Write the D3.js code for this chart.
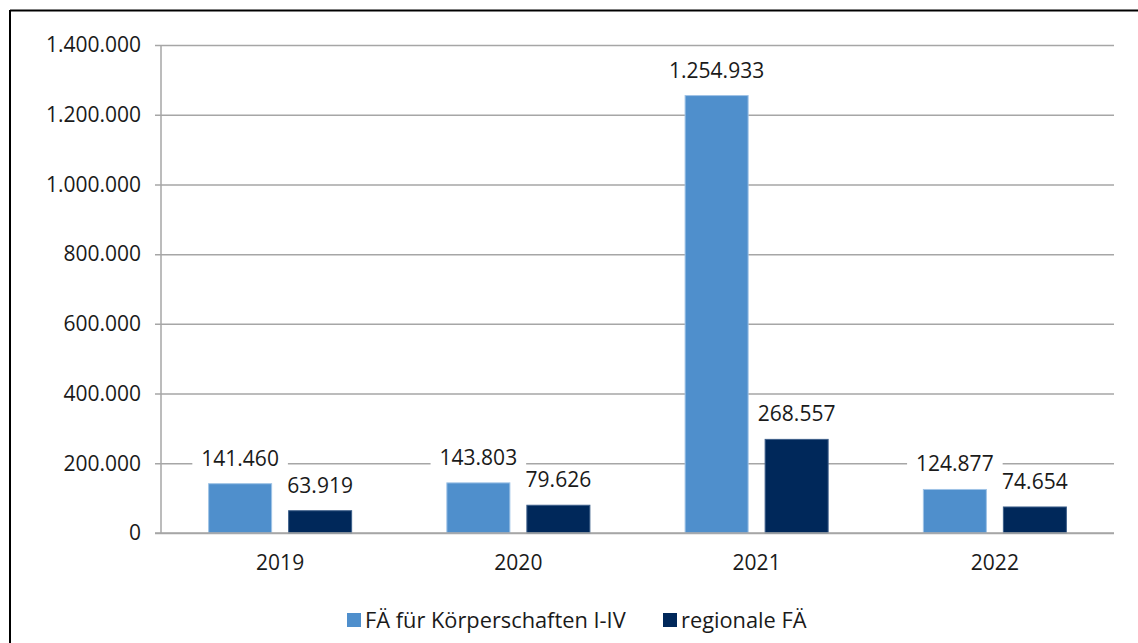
<!DOCTYPE html>
<html>
<head>
<meta charset="utf-8">
<script src="https://cdn.jsdelivr.net/npm/d3@7"></script>
<style>
  html, body { margin: 0; padding: 0; background: #fff; }
  svg { display: block; }
  text { font-family: "Open Sans", sans-serif; fill: #1a1a1a; }
</style>
</head>
<body>
<svg id="chart" width="1138" height="643"></svg>
<script>
// Data
const years = ["2019", "2020", "2021", "2022"];
const seriesNames = ["FÄ für Körperschaften I-IV", "regionale FÄ"];
const koerperschaften = [141460, 143803, 1254933, 124877];
const regionale = [63919, 79626, 268557, 74654];
const yTicks = [0, 200000, 400000, 600000, 800000, 1000000, 1200000, 1400000];
const seriesColors = ["#4f8fcc", "#00285a"];

const seriesValues = [koerperschaften, regionale];
const fmt = v => d3.format(",")(v).replace(/,/g, ".");

const svg = d3.select("#chart");
const W = 1138, H = 643;

// Outer frame (top and left edges visible)
svg.append("line").attr("x1", 10).attr("x2", W).attr("y1", 10.5).attr("y2", 10.5)
  .attr("stroke", "#000").attr("stroke-width", 2);
svg.append("line").attr("x1", 10).attr("x2", 10).attr("y1", 10).attr("y2", H)
  .attr("stroke", "#000").attr("stroke-width", 2);

const plot = { left: 161, right: 1114, top: 45, bottom: 533 };

const y = d3.scaleLinear().domain([0, 1400000]).range([plot.bottom, plot.top]);
const x0 = d3.scaleBand().domain(years).range([plot.left, plot.right]).padding(0);
const x1 = d3.scaleBand().domain(d3.range(seriesNames.length))
  .range([0, x0.bandwidth()]).paddingInner(0.2125).paddingOuter(0.595);

// Gridlines with small outward ticks
const yAxis = d3.axisLeft(y).tickValues(yTicks).tickFormat(fmt)
  .tickSize(-(plot.right - plot.left)).tickPadding(16);
const gy = svg.append("g").attr("transform", `translate(${plot.left},0)`).call(yAxis);
gy.select(".domain").remove();
gy.selectAll(".tick line").attr("stroke", "#a6a6a6").attr("stroke-width", 1.5)
  .attr("x1", -6);
gy.selectAll(".tick text").attr("font-size", 21).attr("fill", "#1a1a1a")
  .attr("font-family", "Open Sans, sans-serif").attr("x", -20);

// Vertical axis line
svg.append("line").attr("x1", plot.left).attr("x2", plot.left)
  .attr("y1", plot.top).attr("y2", plot.bottom)
  .attr("stroke", "#a6a6a6").attr("stroke-width", 1.5);

// Layers: label backings sit over the gridlines but under the bars
const boxLayer = svg.append("g");
const barLayer = svg.append("g");
const textLayer = svg.append("g");

// Category axis
const xAxis = d3.axisBottom(x0).tickSize(0).tickPadding(22);
const gx = svg.append("g").attr("transform", `translate(0,${plot.bottom})`).call(xAxis);
gx.select(".domain").attr("stroke", "#a6a6a6").attr("stroke-width", 1.5)
  .attr("d", `M${plot.left - 6},0H${plot.right}`);
gx.selectAll(".tick text").attr("font-size", 21).attr("fill", "#1a1a1a")
  .attr("font-family", "Open Sans, sans-serif");

// Bars and value labels
years.forEach((yr, i) => {
  seriesValues.forEach((vals, s) => {
    const v = vals[i];
    const bx = x0(yr) + x1(s);
    barLayer.append("rect")
      .attr("x", bx).attr("width", x1.bandwidth())
      .attr("y", y(v)).attr("height", y(0) - y(v))
      .attr("fill", seriesColors[s])
      .attr("stroke", s === 0 ? "#9fc3e6" : "#3d5f8a").attr("stroke-width", 1);

    const cx = bx + x1.bandwidth() / 2;
    const t = textLayer.append("text").attr("x", cx).attr("y", y(v) - 18)
      .attr("text-anchor", "middle").attr("font-size", 21).text(fmt(v));
    const bb = t.node().getBBox();
    boxLayer.append("rect").attr("x", bb.x - 9).attr("y", bb.y)
      .attr("width", bb.width + 18).attr("height", bb.height).attr("fill", "#fff");
  });
});

// Legend
const legend = svg.append("g");
const legendItems = [
  { x: 347, name: seriesNames[0], color: seriesColors[0] },
  { x: 663, name: seriesNames[1], color: seriesColors[1] }
];
legendItems.forEach(it => {
  legend.append("rect").attr("x", it.x).attr("y", 613).attr("width", 14).attr("height", 14)
    .attr("fill", it.color);
  legend.append("text").attr("x", it.x + 18).attr("y", 628).attr("font-size", 21.8).text(it.name);
});
</script>
</body>
</html>
